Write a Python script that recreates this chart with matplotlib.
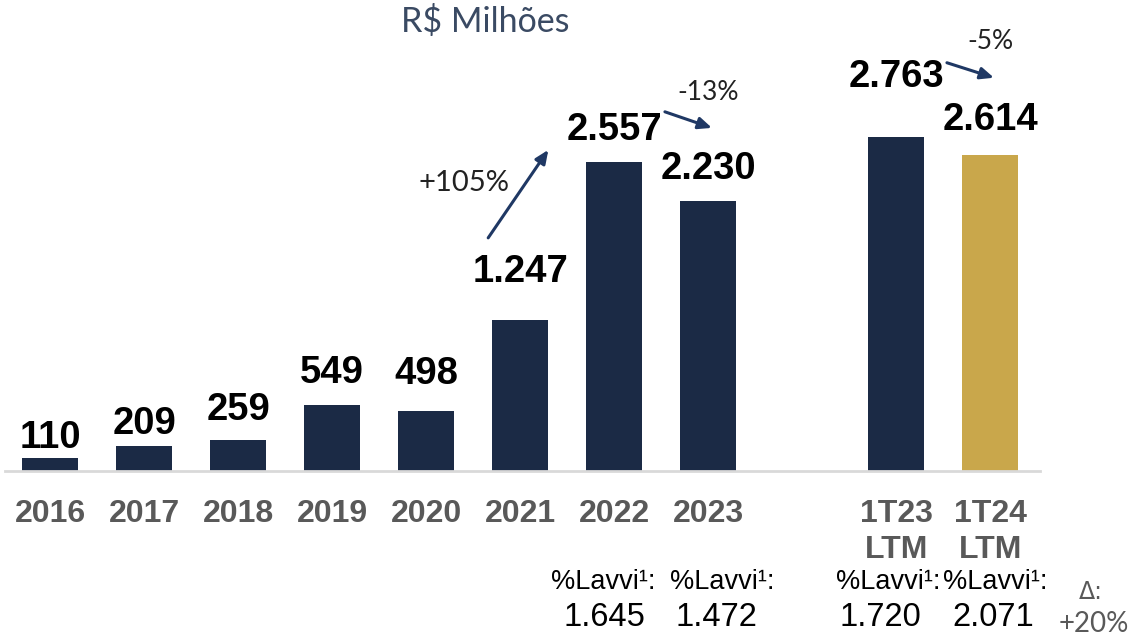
import matplotlib
matplotlib.use("Agg")
import matplotlib.pyplot as plt

categories = ["2016", "2017", "2018", "2019", "2020", "2021", "2022", "2023", "1T23\nLTM", "1T24\nLTM"]
positions = [0, 1, 2, 3, 4, 5, 6, 7, 9, 10]
values = [110, 209, 259, 549, 498, 1247, 2557, 2230, 2763, 2614]
value_labels = ["110", "209", "259", "549", "498", "1.247", "2.557", "2.230", "2.763", "2.614"]
lavvi_pos = [6, 7, 9, 10]
lavvi_vals = ["1.645", "1.472", "1.720", "2.071"]

NAVY = "#1b2a45"
GOLD = "#c9a74b"
colors = [NAVY] * 9 + [GOLD]

W, H = 1132, 638
BASE = 471          # baseline pixel row
SCALE = 0.1208      # px per unit
fig = plt.figure(figsize=(W / 100, H / 100), dpi=100)
ax = fig.add_axes([5 / W, (H - BASE) / H, 1035 / W, 423 / H])
ax.set_xlim(-0.48, 10.53)
ax.set_ylim(0, 3500)

ax.bar(positions, values, width=0.59, color=colors, zorder=2)
for s in ["top", "right", "left"]:
    ax.spines[s].set_visible(False)
ax.spines["bottom"].set_color("#d9d9d9")
ax.spines["bottom"].set_linewidth(2)
ax.set_yticks([])
ax.set_xticks(positions)
ax.set_xticklabels(categories, fontfamily="Liberation Sans", fontweight="bold",
                   fontsize=23, color="#595959", linespacing=1.25, va="top")
ax.tick_params(axis="x", length=0, pad=20)

# value labels: vertical gap (px) between bar top and label centre
label_gap = [20, 22, 30, 32, 37, 48, 32, 32, 60, 35]
for p, v, lab, g in zip(positions, values, value_labels, label_gap):
    ax.text(p, v + g / SCALE, lab, ha="center", va="center",
            fontfamily="Liberation Sans", fontweight="bold", fontsize=27.5, color="black")

# title
fig.text(485 / W, 1 - 21 / H, "R$ Milhões", ha="center", va="center",
         fontfamily="Lato", fontsize=24.5, color="#3a4a63")

ARROW = "#1f3864"
def arrow(x0, y0, x1, y1):
    ax.annotate("", xy=(x1, y1), xytext=(x0, y0), xycoords="data",
                arrowprops=dict(arrowstyle="-|>,head_length=0.8,head_width=0.35",
                                color=ARROW, lw=2.2, shrinkA=0, shrinkB=0),
                annotation_clip=False)

arrow(4.66, 1929, 5.30, 2657)
arrow(6.54, 2972, 7.04, 2839)
arrow(9.54, 3378, 10.04, 3254)

ax.text(4.40, 2385, "+105%", ha="center", va="center", fontfamily="Lato", fontsize=21, color="#222222")
ax.text(7.0, 3130, "-13%", ha="center", va="center", fontfamily="Lato", fontsize=19, color="#222222")
ax.text(10.0, 3550, "-5%", ha="center", va="center", fontfamily="Lato", fontsize=19,
        color="#222222", clip_on=False)

# bottom lavvi annotations (pixel offsets from bar centres)
lab_dx = [-11, 14, -8, 5]
num_dx = [-10, 8, -16, 3]
for p, v, dl, dn in zip(lavvi_pos, lavvi_vals, lab_dx, num_dx):
    cx = ax.transData.transform((p, 0))[0]
    fig.text((cx + dl) / W, 1 - 582 / H, "%Lavvi\u00b9:", ha="center", va="center",
             fontfamily="Liberation Sans", fontsize=19.5, color="black")
    fig.text((cx + dn) / W, 1 - 617 / H, v, ha="center", va="center",
             fontfamily="Liberation Sans", fontsize=23.5, color="black")

fig.text(1091 / W, 1 - 592 / H, "\u0394:", ha="center", va="center", fontfamily="DejaVu Sans",
         fontsize=17, color="#595959")
fig.text(1094 / W, 1 - 624 / H, "+20%", ha="center", va="center", fontfamily="Lato",
         fontsize=20, color="#595959")

fig.savefig("out.png", dpi=100)
